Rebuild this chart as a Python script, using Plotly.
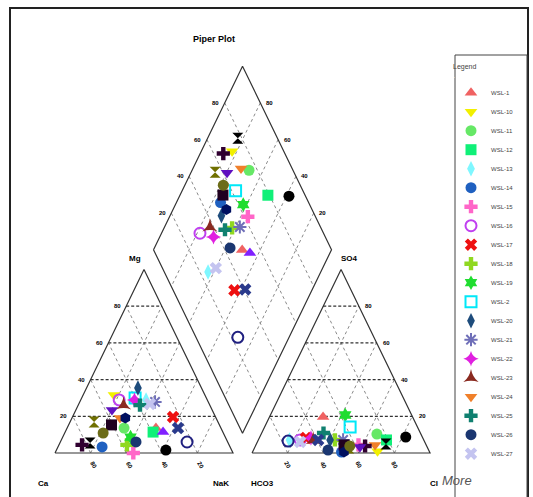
import numpy as np
import plotly.graph_objects as go

# ---------------- data (percent of meq) ----------------
samples = ["WSL-1", "WSL-10", "WSL-11", "WSL-12", "WSL-13", "WSL-14", "WSL-15", "WSL-16",
           "WSL-17", "WSL-18", "WSL-19", "WSL-2", "WSL-20", "WSL-21", "WSL-22", "WSL-23",
           "WSL-24", "WSL-25", "WSL-26", "WSL-27", "WSL-28", "WSL-29", "WSL-3", "WSL-30",
           "WSL-31", "WSL-4", "WSL-5", "WSL-6", "WSL-7", "WSL-8", "WSL-9"]
ca = [36.5, 51.1, 54.4, 39.2, 34.4, 71.9, 56.0, 49.5, 23.9, 57.4, 53.2, 40.0, 35.7, 29.9, 40.9, 48.4,
      54.0, 39.2, 51.5, 33.3, 33.6, 24.1, 22.8, 77.6, 82.6, 69.6, 56.3, 36.9, 60.6, 51.0, 67.5]
mg = [13.6, 31.6, 13.6, 11.4, 28.9, 3.3, 0.0, 28.9, 19.6, 4.4, 8.7, 30.0, 35.4, 27.8, 28.9, 26.1,
      19.0, 26.1, 6.0, 26.7, 11.4, 13.6, 6.0, 5.4, 4.4, 16.9, 23.4, 1.6, 15.3, 19.0, 10.9]
nak = [49.9, 17.3, 32.0, 49.4, 36.7, 24.8, 44.0, 21.6, 56.5, 38.2, 38.1, 30.0, 28.9, 42.3, 30.2, 25.5,
       27.0, 34.7, 42.5, 40.0, 55.0, 62.3, 71.2, 17.0, 13.0, 13.5, 20.3, 61.5, 24.1, 30.0, 21.6]
hco3 = [50.3, 29.0, 24.7, 20.9, 75.4, 49.5, 38.0, 69.4, 65.6, 49.9, 37.3, 37.8, 52.6, 45.3, 62.8, 62.1,
        28.7, 54.4, 56.5, 70.0, 46.7, 59.3, 76.5, 22.3, 34.6, 44.3, 37.7, 9.3, 46.1, 48.1, 43.2]
so4 = [19.6, 1.0, 10.3, 7.1, 7.1, 0.5, 4.4, 7.1, 8.2, 7.1, 20.7, 14.2, 7.1, 7.1, 8.2, 7.1,
       4.4, 10.9, 1.6, 6.0, 3.3, 7.1, 6.5, 4.9, 3.8, 2.7, 3.3, 8.7, 4.4, 0.5, 3.8]
cl = [30.1, 70.0, 65.0, 72.0, 17.5, 50.0, 57.6, 23.5, 26.2, 43.0, 42.0, 48.0, 40.3, 47.6, 29.0, 30.8,
      66.9, 34.7, 41.9, 24.0, 50.0, 33.6, 17.0, 72.8, 61.6, 53.0, 59.0, 82.0, 49.5, 51.4, 53.0]

legend_count = 20
tick_levels = [20, 40, 60, 80]

# ---------------- styles ----------------
symbols = ["triangle-up", "triangle-down", "circle", "square", "diamond-tall", "circle", "cross",
           "circle-open", "x", "cross", "hexagram", "square-open", "diamond-tall", "asterisk-open",
           "star-diamond", "star-triangle-up", "triangle-down", "cross", "circle", "x",
           "triangle-up", "x", "circle-open", "hourglass", "cross", "hourglass", "triangle-down",
           "circle", "square", "hexagon", "circle"]
colors = ["#f06262", "#f2f000", "#66e866", "#10f078", "#7ff7ff", "#1f60c0", "#ff66c8", "#c040f0",
          "#ee1010", "#90d820", "#20dd30", "#00e8f8", "#1e4c7c", "#6f6fb8", "#e020e0", "#8a2a20",
          "#f0802a", "#108070", "#1a3670", "#c4c4f0", "#8020ff", "#2a3a8c", "#202080", "#000000",
          "#300030", "#707000", "#6010c0", "#000000", "#200020", "#001060", "#6c6c18"]

G = 0.107
H = np.sqrt(3) / 2


def cat_xy(c, m, n):
    t = c + m + n
    return n / t + 0.5 * m / t, H * m / t


def an_xy(hc, s, c):
    t = hc + s + c
    return 1 + G + c / t + 0.5 * s / t, H * s / t


def dia_xy(n_frac, hc_frac):
    return 1 + G / 2 + 0.5 * (n_frac - hc_frac), H * (2 + G - n_frac - hc_frac)


def seg_trace(segs, color, width, dash):
    xs, ys = [], []
    for (a, b) in segs:
        xs += [a[0], b[0], None]
        ys += [a[1], b[1], None]
    return go.Scatter(x=xs, y=ys, mode="lines", hoverinfo="skip", showlegend=False,
                      line=dict(color=color, width=width, dash=dash))


fig = go.Figure()

# grid lines
dark_segs, gray_segs = [], []
for lv in tick_levels:
    p = lv / 100
    # cation
    dark_segs.append((cat_xy(1 - p, p, 0), cat_xy(0, p, 1 - p)))
    gray_segs.append((cat_xy(1 - p, 0, p), cat_xy(0, 1 - p, p)))
    gray_segs.append((cat_xy(p, 0, 1 - p), cat_xy(p, 1 - p, 0)))
    # anion
    dark_segs.append((an_xy(1 - p, p, 0), an_xy(0, p, 1 - p)))
    gray_segs.append((an_xy(1 - p, 0, p), an_xy(0, 1 - p, p)))
    gray_segs.append((an_xy(p, 0, 1 - p), an_xy(p, 1 - p, 0)))
    # diamond
    gray_segs.append((dia_xy(p, 0), dia_xy(p, 1)))
    gray_segs.append((dia_xy(0, p), dia_xy(1, p)))

fig.add_trace(seg_trace(gray_segs, "#8a8a8a", 1, "3px,3px"))
fig.add_trace(seg_trace(dark_segs, "#333333", 1.2, "3px,2px"))

# outlines
cat_corners = [cat_xy(100, 0, 0), cat_xy(0, 0, 100), cat_xy(0, 100, 0), cat_xy(100, 0, 0)]
an_corners = [an_xy(100, 0, 0), an_xy(0, 0, 100), an_xy(0, 100, 0), an_xy(100, 0, 0)]
dia_corners = [dia_xy(0, 1), dia_xy(0, 0), dia_xy(1, 0), dia_xy(1, 1), dia_xy(0, 1)]
for poly in (cat_corners, an_corners, dia_corners):
    fig.add_trace(go.Scatter(x=[q[0] for q in poly], y=[q[1] for q in poly], mode="lines",
                             hoverinfo="skip", showlegend=False,
                             line=dict(color="#333333", width=1.2)))

# samples
for i, name in enumerate(samples):
    cx, cy = cat_xy(ca[i], mg[i], nak[i])
    ax, ay = an_xy(hco3[i], so4[i], cl[i])
    nfrac = nak[i] / (ca[i] + mg[i] + nak[i])
    hfrac = hco3[i] / (hco3[i] + so4[i] + cl[i])
    dx, dy = dia_xy(nfrac, hfrac)
    sym = symbols[i]
    marker = dict(symbol=sym, color=colors[i], size=11,
                  line=dict(width=2 if sym.endswith("-open") else 0, color=colors[i]))
    fig.add_trace(go.Scatter(x=[cx, ax, dx], y=[cy, ay, dy], mode="markers", name=name,
                             marker=marker, showlegend=i < legend_count))

# ---------------- text ----------------
ann = []
lab_font = dict(family="Liberation Sans", size=6, color="#000000")


def add_label(x, y, text, xs=0, ys=0, angle=0, font=None):
    ann.append(dict(x=x, y=y, xref="x", yref="y", text=text, showarrow=False,
                    xshift=xs, yshift=ys, textangle=angle, font=font or lab_font))


for lv in tick_levels:
    p = lv / 100
    # cation left side (Mg)
    x, y = cat_xy(1 - p, p, 0)
    add_label(x, y, "<b>%d</b>" % lv, xs=-9)
    # cation base
    x, y = cat_xy(1 - p, 0, p)
    add_label(x, y, "<b>%d</b>" % (100 - lv), xs=3, ys=-12, angle=60)
    # anion right side (SO4)
    x, y = an_xy(0, p, 1 - p)
    add_label(x, y, "<b>%d</b>" % lv, xs=10)
    # anion base
    x, y = an_xy(1 - p, 0, p)
    add_label(x, y, "<b>%d</b>" % lv, xs=0, ys=-12, angle=60)
    # diamond upper-left edge
    x, y = dia_xy(0, p)
    add_label(x, y, "<b>%d</b>" % (100 - lv), xs=-9)
    # diamond upper-right edge
    x, y = dia_xy(p, 0)
    add_label(x, y, "<b>%d</b>" % (100 - lv), xs=9)

big = dict(family="Liberation Sans", size=8, color="#000000")
x, y = cat_xy(100, 0, 0)
add_label(x, y, "<b>Ca</b>", xs=-12, ys=-30, font=big)
x, y = cat_xy(0, 0, 100)
add_label(x, y, "<b>NaK</b>", xs=-12, ys=-30, font=big)
x, y = cat_xy(0, 100, 0)
add_label(x, y, "<b>Mg</b>", xs=-9, ys=11, font=big)
x, y = an_xy(100, 0, 0)
add_label(x, y, "<b>HCO3</b>", xs=10, ys=-30, font=big)
x, y = an_xy(0, 0, 100)
add_label(x, y, "<b>Cl</b>", xs=4, ys=-30, font=big)
x, y = an_xy(0, 100, 0)
add_label(x, y, "<b>SO4</b>", xs=8, ys=11, font=big)

ann.append(dict(x=214 / 533, y=1 - 32 / 497, xref="paper", yref="paper", text="<b>Piper Plot</b>",
                showarrow=False, font=dict(family="Liberation Sans", size=9, color="#000")))
ann.append(dict(x=474 / 533, y=1 - 490 / 497, xref="paper", yref="paper", text="<i>More</i>",
                showarrow=False, font=dict(family="Liberation Sans", size=13, color="#555")))

fig.update_layout(
    width=533, height=497,
    margin=dict(l=0, r=0, t=0, b=0),
    paper_bgcolor="white", plot_bgcolor="white",
    xaxis=dict(range=[(0 - 55) / 178, (533 - 55) / 178], visible=False, fixedrange=True),
    yaxis=dict(range=[(453 - 497) / 212, 453 / 212], visible=False, fixedrange=True),
    annotations=ann,
    shapes=[dict(type="rect", xref="paper", yref="paper", x0=10 / 533, x1=528 / 533,
                 y0=-0.05, y1=1 - 8 / 497, line=dict(color="#222", width=2)),
            dict(type="rect", xref="paper", yref="paper", x0=455 / 533, x1=527 / 533,
                 y0=-0.05, y1=1 - 55 / 497, line=dict(color="#444", width=1))],
    legend=dict(x=451 / 533, y=1 - 60 / 497, xanchor="left", yanchor="top",
                bgcolor="rgba(0,0,0,0)", borderwidth=0,
                font=dict(family="Liberation Sans", size=6, color="#444"),
                title=dict(text="Legend<br><span style='color:white'>.</span>",
                           font=dict(size=7, color="#444")),
                itemwidth=30, tracegroupgap=0),
    showlegend=True,
)

fig.write_html("out.html", config={"displayModeBar": False},
               post_script="document.body.style.margin='0';")
